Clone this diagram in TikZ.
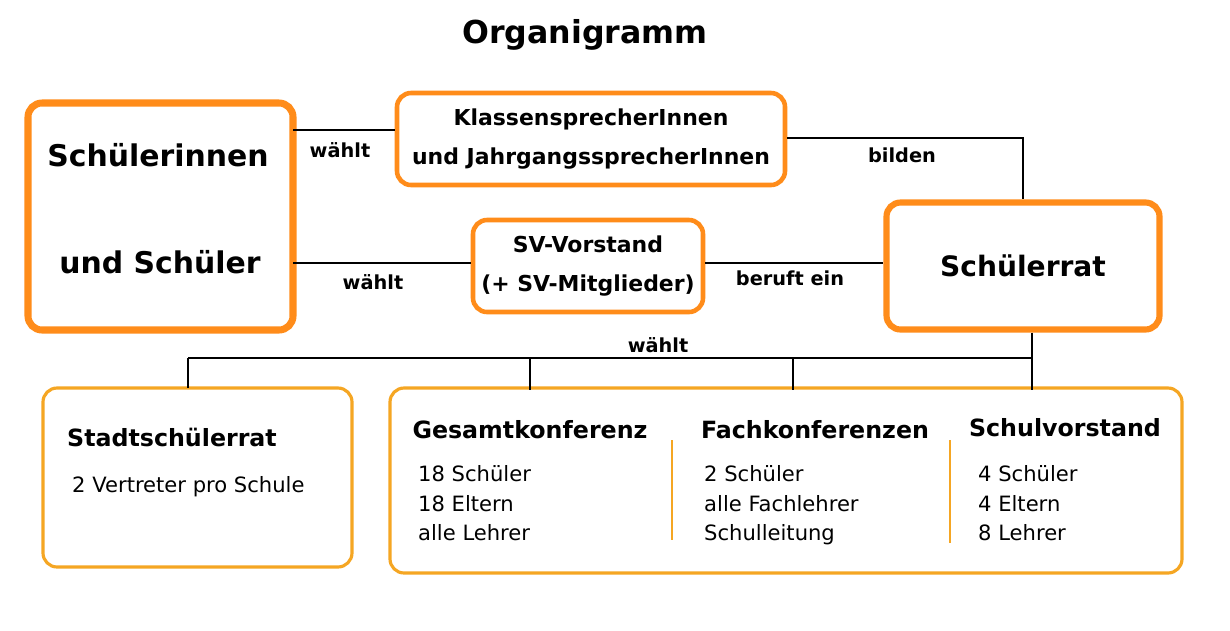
\documentclass[tikz,border=0pt]{standalone}
\usepackage{fontspec}
\setmainfont{DejaVu Sans}
\usetikzlibrary{positioning}
\definecolor{orgorange}{HTML}{FF8C1A}
\definecolor{orgyellow}{HTML}{F5A623}
\tikzset{
  bigbox/.style={draw=orgorange, line width=4pt, rounded corners=8pt},
  midbox/.style={draw=orgorange, line width=2.6pt, rounded corners=8pt},
  lowbox/.style={draw=orgyellow, line width=1.8pt, rounded corners=8pt},
  link/.style={line width=1pt},
  lbl/.style={font=\bfseries\fontsize{11}{13}\selectfont},
  head/.style={font=\bfseries\fontsize{13.5}{16}\selectfont},
  list/.style={font=\fontsize{12}{17}\selectfont, align=left, anchor=north west}
}
\begin{document}
\begin{tikzpicture}[x=0.02cm,y=-0.02cm]
	\useasboundingbox (0,0) rectangle (1230,630);
	\node [font=\bfseries\fontsize{18}{20}\selectfont] (title) at (585,35) {Organigramm};
	% upper boxes
	\draw [bigbox] (28,103) rectangle (293,330);
	\node [font=\bfseries\fontsize{17}{20}\selectfont] (sch1) at (158,155) {Schülerinnen};
	\node [font=\bfseries\fontsize{17}{20}\selectfont] (sch2) at (160,262) {und Schüler};
	\coordinate (schA) at (293,130);
	\coordinate (schB) at (293,263);
	\node [midbox, minimum width=388*0.02cm, minimum height=92*0.02cm, align=center, font=\bfseries\fontsize{12.5}{22}\selectfont] (klass) at (591,139) {KlassensprecherInnen\\und JahrgangssprecherInnen};
	\node [midbox, minimum width=230*0.02cm, minimum height=92*0.02cm, align=center, font=\bfseries\fontsize{12.5}{22}\selectfont] (sv) at (588,266) {SV-Vorstand\\(+ SV-Mitglieder)};
	\node [bigbox, line width=3.5pt, minimum width=273*0.02cm, minimum height=127*0.02cm, font=\bfseries\fontsize{16}{20}\selectfont] (rat) at (1023,266) {Schülerrat};
	% connectors
	\draw [link] (schA) -- (schA -| klass.west);
	\node [lbl] at (340,150) {wählt};
	\draw [link] (klass.east |- 0,138) -| (rat.north);
	\node [lbl] at (902,155) {bilden};
	\draw [link] (schB) -- (schB -| sv.west);
	\node [lbl] at (373,282) {wählt};
	\draw [link] (sv.east |- 0,263) -- (rat.west |- 0,263);
	\node [lbl] at (790,278) {beruft ein};
	\coordinate (bus) at (1032,358);
	\draw [link] (rat.south -| bus) -- (bus) -- (188,358);
	\node [lbl] at (658,345) {wählt};
	% lower boxes
	\draw [lowbox] (43,388) rectangle (352,567);
	\draw [lowbox] (390,388) rectangle (1182,573);
	\foreach \x/\b in {188/388, 530/390, 793/390, 1032/390}
		\draw [link] (\x,358) -- (\x,\b);
	\draw [orgyellow, line width=1.5pt] (672,440) -- (672,540);
	\draw [orgyellow, line width=1.5pt] (950,440) -- (950,543);
	\node [head] (stadt) at (172,437) {Stadtschülerrat};
	\node [list] at (66,470) {2 Vertreter pro Schule};
	\node [head] (ges) at (530,430) {Gesamtkonferenz};
	\node [list] at (412,459) {18 Schüler\\18 Eltern\\alle Lehrer};
	\node [head] (fach) at (815,430) {Fachkonferenzen};
	\node [list] at (698,459) {2 Schüler\\alle Fachlehrer\\Schulleitung};
	\node [head] (vor) at (1065,428) {Schulvorstand};
	\node [list] at (972,459) {4 Schüler\\4 Eltern\\8 Lehrer};
\end{tikzpicture}
\end{document}
